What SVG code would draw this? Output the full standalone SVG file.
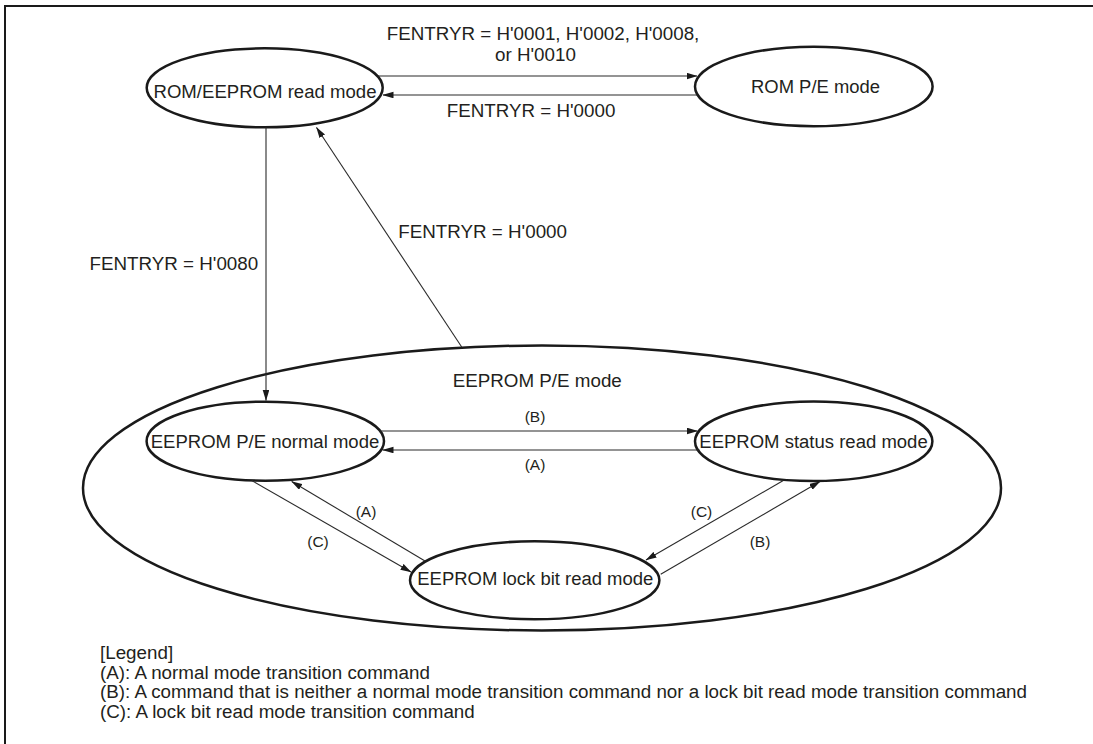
<svg xmlns="http://www.w3.org/2000/svg" width="1093" height="744" viewBox="0 0 1093 744">
  <style>
    .frame { fill: none; stroke: #1a1a1a; stroke-width: 2; }
    .node { fill: none; stroke: #1a1a1a; stroke-width: 2.5; }
    .label { font-family: "Liberation Sans", Arial, sans-serif; font-size: 18.8px; fill: #231f20; }
    .small { font-family: "Liberation Sans", Arial, sans-serif; font-size: 15.5px; fill: #231f20; text-anchor: middle; }
    .mid { text-anchor: middle; }
    .conn { fill: none; stroke: #2a2a2a; stroke-width: 1.1; marker-end: url(#arrow); }
  </style>
  <defs>
    <marker id="arrow" markerUnits="userSpaceOnUse" markerWidth="11" markerHeight="7" refX="10.5" refY="3.3" orient="auto">
      <path d="M0,0 L11,3.3 L0,6.6 z" fill="#1a1a1a"/>
    </marker>
  </defs>

  <rect class="frame" x="5" y="6" width="1200" height="800"/>

  <!-- outer state: EEPROM P/E mode -->
  <g id="eeprom-pe-mode">
    <ellipse class="node" cx="542" cy="488" rx="459" ry="142.5"/>
    <text class="label" x="452.7" y="386.7">EEPROM P/E mode</text>
  </g>

  <g id="rom-eeprom-read">
    <ellipse class="node" cx="264.7" cy="87.8" rx="118" ry="39.5"/>
    <text class="label mid" x="265" y="98" textLength="223" lengthAdjust="spacingAndGlyphs">ROM/EEPROM read mode</text>
  </g>

  <g id="rom-pe">
    <ellipse class="node" cx="813.8" cy="86.5" rx="118.8" ry="39.7"/>
    <text class="label mid" x="815.5" y="92.5" textLength="129" lengthAdjust="spacingAndGlyphs">ROM P/E mode</text>
  </g>

  <g id="eeprom-pe-normal">
    <ellipse class="node" cx="265.3" cy="441.2" rx="118.7" ry="39.5"/>
    <text class="label mid" x="265" y="447.7" textLength="228.6" lengthAdjust="spacingAndGlyphs">EEPROM P/E normal mode</text>
  </g>

  <g id="eeprom-status-read">
    <ellipse class="node" cx="813.7" cy="441.3" rx="118.7" ry="39.7"/>
    <text class="label mid" x="813.5" y="447.7" textLength="228.4" lengthAdjust="spacingAndGlyphs">EEPROM status read mode</text>
  </g>

  <g id="eeprom-lockbit-read">
    <ellipse class="node" cx="534.7" cy="580.3" rx="124.7" ry="39"/>
    <text class="label mid" x="535.3" y="585" textLength="236" lengthAdjust="spacingAndGlyphs">EEPROM lock bit read mode</text>
  </g>

  <!-- transitions -->
  <g id="connectors">
    <line class="conn" x1="378" y1="76" x2="697" y2="76"/>
    <line class="conn" x1="697.5" y1="95" x2="383" y2="95"/>
    <line class="conn" x1="266" y1="127.3" x2="266" y2="400.5"/>
    <line class="conn" x1="461.7" y1="347" x2="316.5" y2="127.5"/>
    <line class="conn" x1="380" y1="431" x2="697.5" y2="431"/>
    <line class="conn" x1="699.5" y1="450" x2="383" y2="450"/>
    <line class="conn" x1="251.7" y1="480.5" x2="411" y2="572"/>
    <line class="conn" x1="425" y1="561" x2="291.7" y2="481.5"/>
    <line class="conn" x1="783.3" y1="480.5" x2="646" y2="560"/>
    <line class="conn" x1="660.7" y1="574.3" x2="820" y2="481.5"/>
  </g>

  <!-- transition labels -->
  <g id="transition-labels">
    <text class="label" x="386.7" y="40">FENTRYR = H'0001, H'0002, H'0008,</text>
    <text class="label" x="495" y="60.5">or H'0010</text>
    <text class="label" x="446.7" y="117">FENTRYR = H'0000</text>
    <text class="label" x="89.5" y="269.5">FENTRYR = H'0080</text>
    <text class="label" x="398.3" y="238.3">FENTRYR = H'0000</text>
    <text class="small" x="535" y="421.7">(B)</text>
    <text class="small" x="535" y="470">(A)</text>
    <text class="small" x="366" y="516.7">(A)</text>
    <text class="small" x="318" y="546.7">(C)</text>
    <text class="small" x="701.5" y="516.7">(C)</text>
    <text class="small" x="760" y="546.7">(B)</text>
  </g>

  <!-- legend -->
  <g id="legend">
    <text class="label" x="100" y="659">[Legend]</text>
    <text class="label" x="100" y="678.5">(A): A normal mode transition command</text>
    <text class="label" x="100" y="698">(B): A command that is neither a normal mode transition command nor a lock bit read mode transition command</text>
    <text class="label" x="100" y="717.5">(C): A lock bit read mode transition command</text>
  </g>
</svg>
